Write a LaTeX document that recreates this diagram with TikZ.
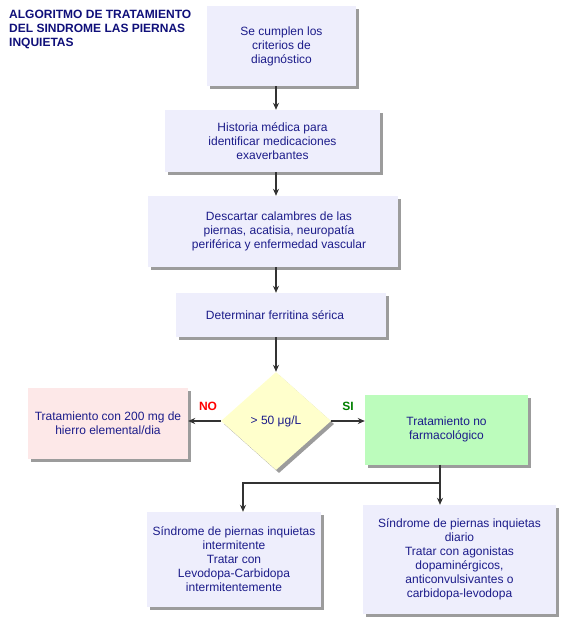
\documentclass[tikz,border=0pt]{standalone}
\usepackage{fontspec}
\setmainfont{Liberation Sans}
\usetikzlibrary{shapes.geometric,shadows,arrows.meta}
\definecolor{txt}{HTML}{1C1C8A}
\definecolor{ttl}{HTML}{10107A}
\definecolor{lav}{HTML}{EEEEFC}
\definecolor{pinkb}{HTML}{FDE8E8}
\definecolor{greenb}{HTML}{BCFCBC}
\definecolor{yelb}{HTML}{FFFFCC}
\definecolor{ln}{HTML}{333333}
\tikzset{
  shd/.style={drop shadow={shadow xshift=3pt,shadow yshift=-3pt,fill=black!70,opacity=0.55}},
  boxtxt/.style={text=txt,align=center,font=\fontsize{12}{14}\selectfont,inner sep=2pt},
  boxs/.style={rectangle,shd,fill=lav,boxtxt},
  arr/.style={draw=ln,line width=2pt,-{Stealth[length=7pt,width=6pt]}},
  lnk/.style={draw=ln,line width=2pt}
}
\begin{document}
\begin{tikzpicture}[x=1pt,y=-1pt]
\useasboundingbox (0,0) rectangle (567,630);
\fill[white] (0,0) rectangle (567,630);
\node[anchor=north west,align=left,text=ttl,font=\bfseries\fontsize{12}{14}\selectfont,inner sep=0pt] (title) at (9,10) {ALGORITMO DE TRATAMIENTO\\DEL SINDROME LAS PIERNAS\\INQUIETAS};
\node[boxs,minimum width=149pt,minimum height=80pt] (b1) at (281.5,46) {Se cumplen los\\criterios de\\diagnóstico};
\node[boxs,minimum width=215pt,minimum height=62pt] (b2) at (272.5,141) {Historia médica para\\identificar medicaciones\\exaverbantes};
\node[boxs,minimum width=250pt,minimum height=71pt,label={[boxtxt,xshift=6pt]center:{Descartar calambres de las\\piernas, acatisia, neuropatía\\periférica y enfermedad vascular}}] (b3) at (273,231.5) {};
\node[boxs,minimum width=210pt,minimum height=44pt,label={[boxtxt,xshift=-6pt]center:{Determinar ferritina sérica}}] (b4) at (281,315) {};
\node[diamond,shd,fill=yelb,text=txt,font=\fontsize{12}{14}\selectfont,minimum width=110pt,minimum height=98pt,inner sep=0pt] (d) at (276,421) {> 50 μg/L};
\node[boxs,fill=pinkb,minimum width=160pt,minimum height=71pt] (no) at (108,423.5) {Tratamiento con 200 mg de\\hierro elemental/dia};
\node[boxs,fill=greenb,minimum width=163pt,minimum height=70pt] (si) at (446.5,429.5) {Tratamiento no\\farmacológico};
\node[boxs,minimum width=174pt,minimum height=95pt] (bl) at (234,559.5) {Síndrome de piernas inquietas\\intermitente\\Tratar con\\Levodopa-Carbidopa\\intermitentemente};
\node[boxs,minimum width=193pt,minimum height=109pt] (br) at (459.5,559.5) {Síndrome de piernas inquietas\\diario\\Tratar con agonistas\\dopaminérgicos,\\anticonvulsivantes o\\carbidopa-levodopa};
\node[text=red,font=\bfseries\fontsize{12}{13}\selectfont] (nolab) at (208,406) {NO};
\node[text=green!50!black,font=\bfseries\fontsize{12}{13}\selectfont] (silab) at (348,406) {SI};
\draw[arr] (b1.south -| d.north) -- (b2.north -| d.north);
\draw[arr] (b2.south -| d.north) -- (b3.north -| d.north);
\draw[arr] (b3.south -| d.north) -- (b4.north -| d.north);
\draw[arr] (b4.south -| d.north) -- (d.north);
\draw[arr] (d.west) -- (no.east |- d.west);
\draw[arr] (d.east) -- (si.west |- d.east);
\coordinate (j) at (440,483);
\coordinate (k) at (243,483);
\draw[arr] (si.south -| j) -- (br.north -| j);
\draw[lnk] (j) -- (k);
\draw[arr] ([yshift=1pt]k) -- (k |- bl.north);
\end{tikzpicture}
\end{document}
